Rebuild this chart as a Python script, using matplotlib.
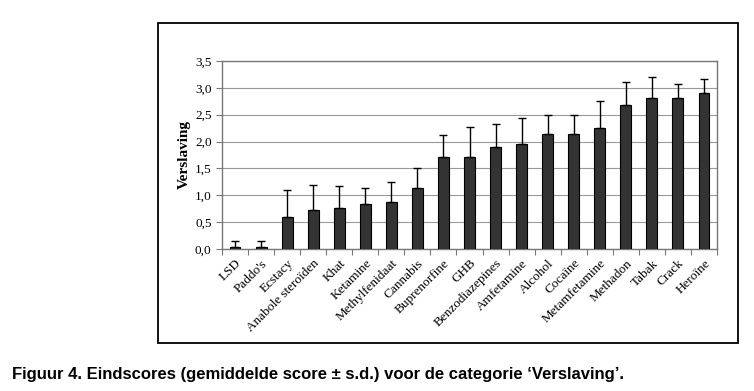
import numpy as np
import matplotlib.pyplot as plt
from matplotlib.patches import Rectangle

drugs = ["LSD", "Paddo's", "Ecstacy", "Anabole steroïden", "Khat", "Ketamine",
         "Methylfenidaat", "Cannabis", "Buprenorfine", "GHB", "Benzodiazepines",
         "Amfetamine", "Alcohol", "Cocaïne", "Metamfetamine", "Methadon",
         "Tabak", "Crack", "Heroïne"]
mean_score = [0.04, 0.04, 0.59, 0.72, 0.76, 0.84, 0.87, 1.13, 1.71, 1.71, 1.90,
              1.95, 2.14, 2.14, 2.25, 2.68, 2.81, 2.81, 2.90]
sd_score = [0.10, 0.10, 0.50, 0.48, 0.42, 0.29, 0.37, 0.37, 0.41, 0.57, 0.42,
            0.48, 0.36, 0.36, 0.50, 0.42, 0.39, 0.26, 0.26]

serif = ['Liberation Serif', 'DejaVu Serif']
fig = plt.figure(figsize=(7.54, 3.91), dpi=100)

# outer frame around the chart
fig.patches.append(Rectangle((158/754, 1-343/391), (738-158)/754, (343-23)/391,
                             transform=fig.transFigure, fill=False,
                             edgecolor='black', linewidth=1.3))

ax = fig.add_axes([222/754, 1-249/391, (717-222)/754, (249-61)/391])
x = np.arange(len(drugs))
ax.bar(x, mean_score, width=0.42, color='#333333', edgecolor='black',
       linewidth=0.8, zorder=3)
ax.errorbar(x, mean_score, yerr=[np.zeros(len(sd_score)), sd_score], fmt='none',
            ecolor='black', elinewidth=1, capsize=3, capthick=1, zorder=4)

ax.set_xlim(-0.5, len(drugs) - 0.5)
ax.set_ylim(0, 3.5)
ax.set_yticks(np.arange(0, 3.51, 0.5))
ax.set_yticklabels([f"{v:.1f}".replace('.', ',') for v in np.arange(0, 3.51, 0.5)],
                   family=serif, fontsize=9.5)
ax.yaxis.grid(True, color='#999999', linewidth=0.8, zorder=0)
ax.set_axisbelow(True)

ax.set_xticks(np.arange(-0.5, len(drugs), 1))
ax.set_xticklabels([])
ax.set_xticks(x, minor=True)
ax.set_xticklabels(drugs, minor=True, rotation=45, ha='right', va='top',
                   rotation_mode='anchor', family=serif, fontsize=9.5)
ax.tick_params(axis='x', which='minor', length=0, pad=6)
ax.tick_params(axis='x', which='major', length=4, color='#777777')
ax.tick_params(axis='y', length=4, color='#777777')

for side in ['top', 'right', 'bottom', 'left']:
    ax.spines[side].set_color('#777777')
    ax.spines[side].set_linewidth(1)

ax.set_ylabel('Verslaving', family=serif, fontsize=11, fontweight='bold', labelpad=3)

fig.text(12/754, 1-375/391,
         "Figuur 4. Eindscores (gemiddelde score \u00b1 s.d.) voor de categorie \u2018Verslaving\u2019.",
         family=['Liberation Sans Narrow', 'Liberation Sans', 'DejaVu Sans'],
         fontsize=12, fontweight='bold', va='center', ha='left')

fig.savefig('out.png', dpi=100)
